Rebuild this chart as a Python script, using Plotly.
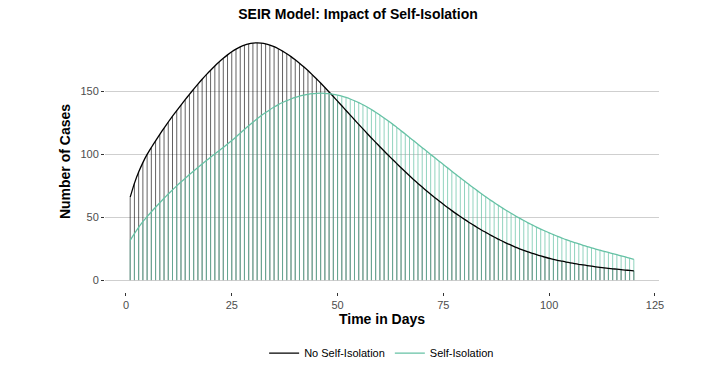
import plotly.graph_objects as go

days = list(range(1, 121))

no_isolation = [
    66, 77, 86, 93.5, 100, 105.5, 110.8, 116, 121, 125.8,
    130.4, 134.9, 139.3, 143.6, 147.8, 151.9, 155.9, 159.8, 163.5, 167,
    170.4, 173.6, 176.5, 179.2, 181.7, 183.8, 185.6, 187, 188, 188.6,
    188.8, 188.6, 188, 187, 185.7, 184.1, 182.2, 180.1, 177.8, 175.3,
    172.6, 169.7, 166.7, 163.5, 160.2, 156.8, 153.3, 149.7, 146.1, 142.4,
    138.7, 135, 131.3, 127.6, 123.9, 120.3, 116.7, 113.1, 109.6, 106.1,
    102.7, 99.3, 96, 92.7, 89.4, 86.2, 83, 79.9, 76.9, 74,
    71.1, 68.3, 65.6, 62.9, 60.3, 57.8, 55.3, 52.9, 50.6, 48.3,
    46.1, 44, 41.9, 39.9, 38, 36.1, 34.3, 32.6, 30.9, 29.3,
    27.8, 26.3, 24.9, 23.6, 22.4, 21.3, 20.2, 19.2, 18.3, 17.4,
    16.6, 15.8, 15.1, 14.4, 13.8, 13.2, 12.6, 12.1, 11.6, 11.1,
    10.6, 10.2, 9.8, 9.4, 9, 8.7, 8.3, 8, 7.7, 7.4,
]

self_isolation = [
    31.7, 37, 42, 46.5, 50.5, 54.3, 58, 61.6, 65.1, 68.5,
    71.8, 75, 78, 81, 84, 86.9, 89.7, 92.4, 95.1, 97.8,
    100.4, 103, 105.6, 108.3, 111, 113.9, 116.9, 119.9, 122.8, 125.6,
    128.3, 130.9, 133.3, 135.6, 137.7, 139.6, 141.3, 142.8, 144.1, 145.3,
    146.3, 147.1, 147.8, 148.3, 148.6, 148.7, 148.6, 148.3, 147.8, 147.1,
    146.3, 145.3, 144.1, 142.7, 141.2, 139.5, 137.7, 135.7, 133.6, 131.4,
    129, 126.6, 124.1, 121.5, 118.9, 116.2, 113.5, 110.8, 108.1, 105.4,
    102.7, 100, 97.3, 94.6, 92, 89.3, 86.6, 84, 81.4, 78.8,
    76.2, 73.7, 71.2, 68.7, 66.3, 64, 61.7, 59.5, 57.3, 55.2,
    53.2, 51.2, 49.3, 47.4, 45.6, 43.9, 42.2, 40.6, 39.1, 37.6,
    36.2, 34.8, 33.5, 32.2, 31, 29.9, 28.8, 27.7, 26.7, 25.7,
    24.7, 23.8, 22.9, 22, 21.1, 20.2, 19.3, 18.4, 17.5, 16.6,
]

series_names = ["No Self-Isolation", "Self-Isolation"]
x_ticks = [0, 25, 50, 75, 100, 125]
y_ticks = [0, 50, 100, 150]

BLACK = "#000000"
GREEN = "#66C2A5"


def stems(xs, ys):
    sx, sy = [], []
    for x, y in zip(xs, ys):
        sx += [x, x, None]
        sy += [0, y, None]
    return sx, sy


fig = go.Figure()

bx, by = stems(days, no_isolation)
gx, gy = stems(days, self_isolation)

fig.add_trace(go.Scatter(x=bx, y=by, mode="lines",
                         line=dict(color="rgba(0,0,0,0.62)", width=1),
                         showlegend=False, hoverinfo="skip"))
fig.add_trace(go.Scatter(x=gx, y=gy, mode="lines",
                         line=dict(color="rgba(102,194,165,0.72)", width=1),
                         showlegend=False, hoverinfo="skip"))
fig.add_trace(go.Scatter(x=days, y=no_isolation, mode="lines",
                         line=dict(color=BLACK, width=1.3, shape="spline", smoothing=0.6),
                         name=series_names[0]))
fig.add_trace(go.Scatter(x=days, y=self_isolation, mode="lines",
                         line=dict(color=GREEN, width=1.3, shape="spline", smoothing=0.6),
                         name=series_names[1]))

fig.update_layout(
    width=716, height=376,
    margin=dict(l=105, r=57, t=31, b=84),
    paper_bgcolor="white", plot_bgcolor="white",
    font=dict(family="Liberation Sans, Arial, sans-serif", size=11, color="#4d4d4d"),
    title=dict(text="<b>SEIR Model: Impact of Self-Isolation</b>",
               x=0.5, xanchor="center", y=0.962, yanchor="middle",
               font=dict(size=14, color="#000000")),
    showlegend=True,
    legend=dict(orientation="h", x=0.533, xanchor="center",
                xref="container", yref="container", y=0.061, yanchor="middle",
                font=dict(size=11, color="#000000"), itemwidth=30,
                bgcolor="rgba(0,0,0,0)"),
)

fig.update_xaxes(
    range=[-4.95, 125.95], tickvals=x_ticks, ticktext=[str(v) for v in x_ticks],
    showgrid=False, zeroline=False, showline=False, automargin=False,
    ticks="outside", ticklen=3, tickcolor="#333333", tickwidth=1,
    tickfont=dict(size=11, color="#4d4d4d"),
    title=dict(text="<b>Time in Days</b>", font=dict(size=14, color="#000000"), standoff=3),
)
fig.update_yaxes(
    range=[-9.45, 198.2], tickvals=y_ticks, ticktext=[str(v) for v in y_ticks],
    showgrid=True, gridcolor="#cfcfcf", gridwidth=1, zeroline=False, showline=False,
    automargin=False,
    ticks="outside", ticklen=3, tickcolor="#333333", tickwidth=1,
    tickfont=dict(size=11, color="#4d4d4d"),
    title=dict(text="<b>Number of Cases</b>", font=dict(size=14, color="#000000"), standoff=6),
)

fig.write_html("out.html", config={"displayModeBar": False},
               post_script="document.body.style.margin='0';document.body.style.padding='0';")
